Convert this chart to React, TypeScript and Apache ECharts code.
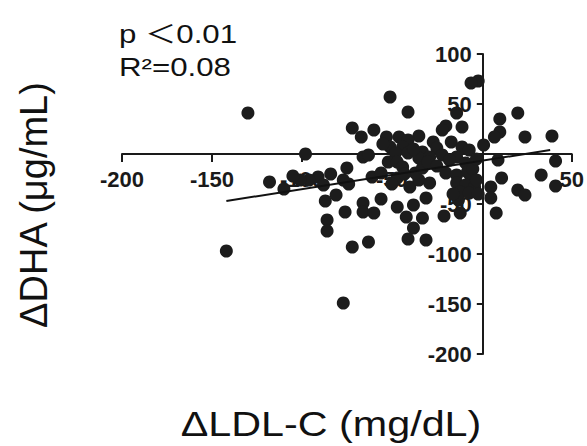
import React, { useEffect, useRef } from "react";
import * as echarts from "echarts";

// ΔLDL-C (mg/dL) values, x
const ldlChange: number[] = [
  -130, -142, -77, -98, -110, -2, -6, -51, -41, -14, 20, 10, -20, -11, -22, -72, -60, -67, -35, 39, 24, 10, 7, 1,
  -53, -46, -41, -51, -44, -48, -41, -52, -47,
  -27, -25, -17, -11, -7, -33, -35, -29, -22, -14, -66, -63,
  -75, -91, -96, -101, -88, -81, -87, -77, -74, -86, -86, -76, -72, -63, -66, -66, -60, -56, -47, -42, -38, -33, -38, -41, -31, -31, -21, -12, -13,
  -47, -40, -35, -29, -37, -33, -44, -20, -14, -9, -6, -14, -9, -4, -12, -7, -8, 9, 5, 11, 5, 8, 20, 24, 33, 41, 41, -61, -56,
  -55, -38, -30, -25, -18, -5, -3, -50, -43, -118, -105, -84, -3, -2, -16,
];
// ΔDHA (μg/mL) values, y
const dhaChange: number[] = [
  41, -97, -149, 0, -35, 73, 71, 57, 42, 41, 41, 35, 28, 27, 24, 26, 24, 17, 18, 18, 17, 22, 17, 9,
  17, 17, 14, 7, 7, 1, 1, -8, -8,
  12, 6, 12, 7, 4, 2, -4, -3, -1, -3, -3, -1,
  -14, -23, -26, -26, -31, -41, -47, -26, -30, -66, -77, -58, -93, -88, -49, -58, -59, -45, -53, -63, -51, -64, -74, -85, -86, -44, -62, -59, -46,
  -24, -33, -26, -29, -19, -14, -13, -19, -21, -9, -23, -29, -31, -33, -38, -39, -18, -6, -33, -24, -44, -59, -36, -41, -21, -7, -32, -23, -19,
  10, 5, -8, -12, -6, -15, -26, -30, -20, -28, -22, -20, -5, -40, -40,
];
// regression line endpoints
const fitX: number[] = [-142, 38];
const fitY: number[] = [-47, 4];

const xTicks = { min: -200, max: 50, interval: 50 };
const yTicks = { min: -200, max: 100, interval: 50 };

const pText = "p ＜0.01";
const r2Text = "R²=0.08";
const xTitle = "ΔLDL-C (mg/dL)";
const yTitle = "ΔDHA (μg/mL)";

export default function App() {
  const ref = useRef<HTMLDivElement>(null);
  useEffect(() => {
    if (!ref.current) return;
    const chart = echarts.init(ref.current, undefined, { renderer: "svg" });
    const points = ldlChange.map((x, i) => [x, dhaChange[i]]);
    const fit = fitX.map((x, i) => [x, fitY[i]]);
    const labelStyle = {
      fontFamily: "Liberation Sans, Arial, sans-serif",
      fontWeight: "bold" as const,
      fontSize: 22,
      color: "#1a1a1a",
      formatter: (v: number) => (v === 0 ? "" : String(v)),
    };
    const gridLeft = 122;
    const gridRight = 14;
    const gridTop = 54;
    const gridBottom = 92;
    const plotW = 587 - gridLeft - gridRight;
    const plotH = 446 - gridTop - gridBottom;
    // place axes through the origin
    const yAxisOffset = -plotW * ((0 - xTicks.min) / (xTicks.max - xTicks.min));
    const xAxisOffset = -plotH * ((0 - yTicks.min) / (yTicks.max - yTicks.min));
    chart.setOption({
      animation: false,
      backgroundColor: "#ffffff",
      grid: { left: gridLeft, right: gridRight, top: gridTop, bottom: gridBottom, containLabel: false },
      xAxis: {
        type: "value",
        position: "bottom",
        offset: xAxisOffset,
        min: xTicks.min,
        max: xTicks.max,
        interval: xTicks.interval,
        axisLine: { onZero: false, lineStyle: { color: "#1a1a1a", width: 2 } },
        axisTick: { show: true, length: 8, lineStyle: { color: "#1a1a1a", width: 2 } },
        axisLabel: { ...labelStyle, margin: 14, showMinLabel: true, showMaxLabel: true },
        splitLine: { show: false },
      },
      yAxis: {
        type: "value",
        position: "left",
        offset: yAxisOffset,
        min: yTicks.min,
        max: yTicks.max,
        interval: yTicks.interval,
        axisLine: { onZero: false, lineStyle: { color: "#1a1a1a", width: 2 } },
        axisTick: { show: true, length: 6, lineStyle: { color: "#1a1a1a", width: 2 } },
        axisLabel: { ...labelStyle, margin: 11, showMinLabel: true, showMaxLabel: true },
        splitLine: { show: false },
      },
      series: [
        {
          type: "scatter",
          data: points,
          symbol: "circle",
          symbolSize: 13,
          itemStyle: { color: "#1c1c1c", opacity: 1 },
          z: 3,
        },
        {
          type: "line",
          data: fit,
          symbol: "none",
          lineStyle: { color: "#111111", width: 2 },
          z: 4,
        },
      ],
      graphic: [
        {
          type: "text",
          x: 119,
          y: 34,
          scaleX: 1.25,
          style: {
            text: pText,
            fontFamily: "Liberation Sans, Noto Sans CJK SC, sans-serif",
            fontSize: 25,
            fill: "#111",
            align: "left",
            verticalAlign: "middle",
          },
        },
        {
          type: "text",
          x: 119,
          y: 67,
          scaleX: 1.25,
          style: {
            text: r2Text,
            fontFamily: "Liberation Sans, Arial, sans-serif",
            fontSize: 25,
            fill: "#111",
            align: "left",
            verticalAlign: "middle",
          },
        },
        {
          type: "text",
          x: 331,
          y: 424,
          scaleX: 1.18,
          style: {
            text: xTitle,
            fontFamily: "Liberation Sans, Arial, sans-serif",
            fontSize: 35,
            fill: "#111",
            align: "center",
            verticalAlign: "middle",
          },
        },
        {
          type: "text",
          x: 34,
          y: 205,
          rotation: Math.PI / 2,
          style: {
            text: yTitle,
            fontFamily: "Liberation Sans, Arial, sans-serif",
            fontSize: 38,
            fill: "#111",
            align: "center",
            verticalAlign: "middle",
          },
        },
      ],
    });
    return () => chart.dispose();
  }, []);
  return <div ref={ref} style={{ position: "fixed", left: 0, top: 0, width: 587, height: 446 }} />;
}
